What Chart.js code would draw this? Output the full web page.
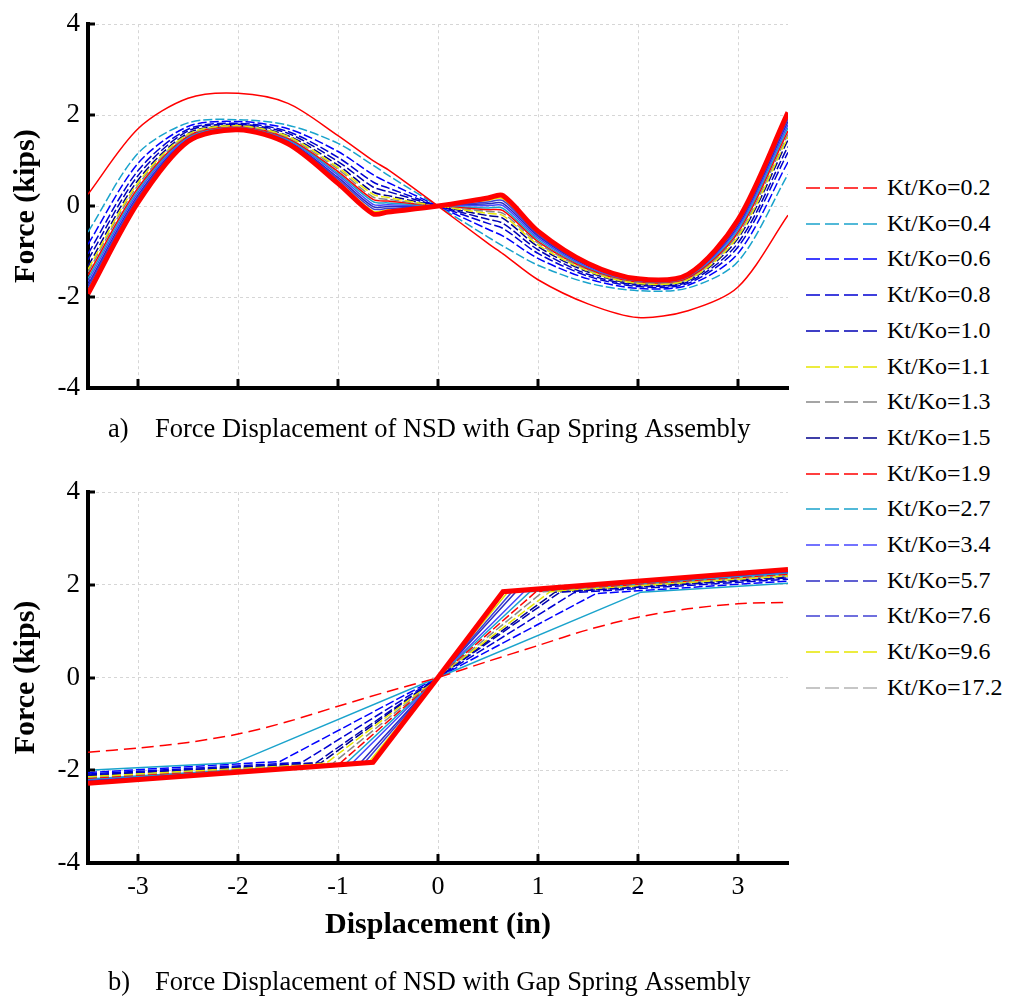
<!DOCTYPE html>
<html><head><meta charset="utf-8">
<script src="https://cdn.jsdelivr.net/npm/chart.js@4"></script>
<style>
html,body{margin:0;padding:0;background:#fff;}
#wrap{position:relative;width:1011px;height:998px;overflow:hidden;background:#fff;}
#c1{position:absolute;left:0;top:0;}
#c2{position:absolute;left:0;top:440px;}
.lt{position:absolute;left:887px;font:24px 'Liberation Serif','Times New Roman',serif;color:#000;white-space:nowrap;line-height:28px;}
.ls{position:absolute;left:806px;}
</style></head>
<body>
<div id="wrap">
<canvas id="c1" width="800" height="445"></canvas>
<canvas id="c2" width="800" height="558"></canvas>
<div id="legend"></div>
</div>
<script>
// ---------- legend / series definitions ----------
const seriesLabels = ['Kt/Ko=0.2','Kt/Ko=0.4','Kt/Ko=0.6','Kt/Ko=0.8','Kt/Ko=1.0','Kt/Ko=1.1','Kt/Ko=1.3','Kt/Ko=1.5','Kt/Ko=1.9','Kt/Ko=2.7','Kt/Ko=3.4','Kt/Ko=5.7','Kt/Ko=7.6','Kt/Ko=9.6','Kt/Ko=17.2'];
const seriesColors = ['#ff0000','#1aa3cc','#0000ff','#0000d2','#0000b4','#e6e600','#888888','#00008c','#ff0000','#1aa3cc','#4646ff','#2c2cc4','#4040d4','#e6e600','#b4b4b4'];
const xTicks = [-3,-2,-1,0,1,2,3];
const yTicks = [-4,-2,0,2,4];
const captionTopLabel = 'a)';
const captionBottomLabel = 'b)';
const captionText = 'Force Displacement of NSD with Gap Spring Assembly';

// ---------- panel a) NSD with gap spring assembly ----------
const xTop = [-3.5,-3,-2.5,-2,-1.5,-1,-0.65,-0.5,0,0.5,0.65,1,1.5,2,2.5,3,3.5];
const topKt02  = [0.26,1.70,2.37,2.48,2.26,1.55,1.00,0.80,0,-0.82,-1.05,-1.62,-2.15,-2.45,-2.30,-1.78,-0.20];
const topKt04  = [-0.57,1.16,1.83,1.90,1.78,1.38,0.90,0.68,0,-0.68,-0.88,-1.30,-1.69,-1.86,-1.80,-1.22,0.70];
const topKt06  = [-0.84,0.94,1.75,1.86,1.70,1.20,0.69,0.52,0,-0.51,-0.66,-1.15,-1.60,-1.81,-1.74,-1.04,0.97];
const topKt08  = [-1.05,0.78,1.69,1.82,1.64,1.07,0.53,0.40,0,-0.38,-0.49,-1.04,-1.54,-1.77,-1.70,-0.90,1.18];
const topKt10  = [-1.18,0.67,1.65,1.80,1.60,0.98,0.42,0.32,0,-0.29,-0.38,-0.96,-1.50,-1.74,-1.67,-0.81,1.31];
const topKt11  = [-1.39,0.51,1.58,1.77,1.53,0.85,0.26,0.19,0,-0.16,-0.21,-0.85,-1.43,-1.70,-1.62,-0.67,1.52];
const topKt13  = [-1.45,0.46,1.56,1.76,1.51,0.81,0.20,0.15,0,-0.12,-0.16,-0.81,-1.41,-1.69,-1.61,-0.62,1.58];
const topKt15  = [-1.32,0.57,1.60,1.78,1.55,0.90,0.31,0.23,0,-0.21,-0.27,-0.89,-1.45,-1.72,-1.64,-0.71,1.45];
const topKt19  = [-1.52,0.40,1.54,1.75,1.49,0.76,0.15,0.11,0,-0.08,-0.10,-0.78,-1.39,-1.68,-1.59,-0.58,1.65];
const topKt27  = [-1.59,0.35,1.52,1.74,1.47,0.72,0.10,0.07,0,-0.04,-0.05,-0.74,-1.37,-1.67,-1.58,-0.53,1.72];
const topKt34  = [-1.66,0.30,1.50,1.72,1.45,0.68,0.04,0.03,0,0.01,0.01,-0.70,-1.35,-1.65,-1.56,-0.48,1.79];
const topKt57  = [-1.73,0.24,1.48,1.71,1.43,0.63,-0.01,-0.01,0,0.05,0.06,-0.66,-1.32,-1.64,-1.55,-0.44,1.86];
const topKt76  = [-1.79,0.19,1.46,1.70,1.41,0.59,-0.06,-0.05,0,0.09,0.12,-0.63,-1.30,-1.63,-1.53,-0.39,1.92];
const topKt96  = [-1.85,0.14,1.44,1.69,1.39,0.55,-0.11,-0.08,0,0.13,0.16,-0.60,-1.29,-1.62,-1.52,-0.36,1.98];
const topKt172 = [-1.89,0.11,1.43,1.69,1.38,0.53,-0.14,-0.11,0,0.15,0.20,-0.57,-1.27,-1.61,-1.51,-0.33,2.02];
const topTarget = [-1.93,0.08,1.42,1.68,1.37,0.50,-0.17,-0.13,0,0.18,0.23,-0.55,-1.26,-1.60,-1.50,-0.30,2.06];
const topSeries = [topKt02,topKt04,topKt06,topKt08,topKt10,topKt11,topKt13,topKt15,topKt19,topKt27,topKt34,topKt57,topKt76,topKt96,topKt172];

// ---------- panel b) ----------
const bottomX02 = [-3.5,-3,-2.5,-2,-1.5,-1,-0.5,0,0.5,1,1.5,2,2.5,3,3.5];
const bottomY02 = [-1.61,-1.52,-1.40,-1.22,-0.95,-0.62,-0.30,0,0.35,0.69,1.03,1.30,1.48,1.59,1.62];
// series Kt/Ko = 0.4 ... 17.2 : linear branch to a kink, then hardening branch
const bottomKinkX = [2.03,1.58,1.36,1.22,1.12,1.05,1.17,0.98,0.92,0.86,0.78,0.74,0.70,0.67];
const bottomKinkF = [1.84,1.81,1.83,1.84,1.85,1.85,1.84,1.85,1.85,1.85,1.85,1.85,1.85,1.85];
const bottomEndL  = [-2.00,-2.05,-2.08,-2.10,-2.14,-2.15,-2.12,-2.17,-2.19,-2.20,-2.22,-2.24,-2.25,-2.26];
const bottomEndR  = [2.03,2.08,2.12,2.15,2.19,2.20,2.17,2.22,2.24,2.25,2.27,2.28,2.30,2.31];
const bottomTargetX = [-3.5,-0.65,0,0.65,3.5];
const bottomTargetY = [-2.28,-1.83,0,1.85,2.33];

const topDash    = [[],[9,3],[9,3],[9,3],[9,3],[9,3],[9,3],[9,3],[],[],[],[],[],[],[]];
const bottomDash = [[12,6],[],[9,3],[9,3],[9,3],[9,3],[9,3],[9,3],[9,3],[],[],[],[],[],[]];

const SERIF = "'Liberation Serif','Times New Roman',serif";
Chart.defaults.font.family = SERIF;
Chart.defaults.color = '#000';

function topDatasets(){
  const ds = [{label:'target', inLegend:false, data: xTop.map((x,i)=>({x, y: topTarget[i]})),
    borderColor:'#ff0000', borderWidth:5, tension:0.3, pointRadius:0}];
  topSeries.forEach((arr,k)=>ds.push({label: seriesLabels[k], data: xTop.map((x,i)=>({x, y: arr[i]})),
    borderColor: seriesColors[k], borderWidth:1.5, borderDash: topDash[k], tension:0.3, pointRadius:0}));
  return ds;
}
function bottomDatasets(){
  const ds = [{label:'target', inLegend:false, data: bottomTargetX.map((x,i)=>({x, y: bottomTargetY[i]})),
    borderColor:'#ff0000', borderWidth:5, tension:0, pointRadius:0}];
  ds.push({label: seriesLabels[0], data: bottomX02.map((x,i)=>({x, y: bottomY02[i]})),
    borderColor: seriesColors[0], borderWidth:1.5, borderDash: bottomDash[0], tension:0.3, pointRadius:0});
  bottomKinkX.forEach((kx,j)=>{
    const k = j+1;
    ds.push({label: seriesLabels[k], data:[
      {x:-3.5, y: bottomEndL[j]}, {x:-kx, y:-bottomKinkF[j]}, {x:0, y:0}, {x:kx, y: bottomKinkF[j]}, {x:3.5, y: bottomEndR[j]}],
      borderColor: seriesColors[k], borderWidth:1.5, borderDash: bottomDash[k], tension:0, pointRadius:0});
  });
  return ds;
}

const inwardTicks = {
  id:'inwardTicks',
  afterDraw(chart){
    const {ctx, chartArea:a, scales:{x,y}} = chart;
    ctx.save(); ctx.strokeStyle='#000'; ctx.lineWidth=3; ctx.setLineDash([]);
    x.ticks.forEach(t=>{const p=Math.round(x.getPixelForValue(t.value)); ctx.beginPath(); ctx.moveTo(p,a.bottom); ctx.lineTo(p,a.bottom-9); ctx.stroke();});
    y.ticks.forEach(t=>{const p=Math.round(y.getPixelForValue(t.value)); ctx.beginPath(); ctx.moveTo(a.left,p); ctx.lineTo(a.left+7,p); ctx.stroke();});
    ctx.restore();
  }
};

const caption = {
  id:'caption',
  afterDraw(chart, args, opts){
    const {ctx, chartArea:a} = chart;
    ctx.save(); ctx.font = opts.size + 'px ' + SERIF; ctx.fillStyle = '#000';
    ctx.textBaseline = 'middle'; ctx.textAlign = 'left';
    ctx.fillText(opts.label, a.left + opts.labelDx, a.bottom + opts.dy);
    ctx.fillText(opts.text, a.left + opts.textDx, a.bottom + opts.dy);
    ctx.restore();
  }
};

function scales(isTop){
  return {
    x:{type:'linear', min:-3.5, max:3.5,
      afterBuildTicks(s){ s.ticks = xTicks.map(v=>({value:v})); },
      ticks:{display:!isTop, font:{size:26, family:SERIF}, color:'#000', padding:9},
      grid:{color:'#d6d6d6', lineWidth:1, drawTicks:false},
      border:{display:true, color:'#000', width:4, dash:[3,3]},
      title: isTop ? {display:false}
        : {display:true, text:'Displacement (in)', font:{size:30, weight:'bold', family:SERIF}, color:'#000', padding:{top:0,bottom:19}},
      afterFit(s){ s.height = isTop ? 57 : 99; }
    },
    y:{type:'linear', min:-4, max:4,
      afterBuildTicks(s){ s.ticks = yTicks.map(v=>({value:v})); },
      ticks:{font:{size:27, family:SERIF}, color:'#000', padding:8},
      grid:{color:'#d6d6d6', lineWidth:1, drawTicks:false},
      border:{display:true, color:'#000', width:4, dash:[3,3]},
      title:{display:true, text:'Force (kips)', font:{size:30, weight:'bold', family:SERIF}, color:'#000', padding:{top:8,bottom:0}},
      afterFit(s){ s.width = 88; }
    }
  };
}

const chart1 = new Chart(document.getElementById('c1'), {
  type:'line',
  data:{datasets: topDatasets()},
  options:{responsive:false, animation:false,
    layout:{padding:{top:20, right:12, left:0, bottom:0}},
    plugins:{legend:{display:false}, tooltip:{enabled:false},
      caption:{label:captionTopLabel, text:captionText, size:26.5, labelDx:20, textDx:67, dy:42}},
    scales: scales(true)
  },
  plugins:[inwardTicks, caption]
});

const chart2 = new Chart(document.getElementById('c2'), {
  type:'line',
  data:{datasets: bottomDatasets()},
  options:{responsive:false, animation:false,
    layout:{padding:{top:52, right:12, left:0, bottom:36}},
    plugins:{legend:{display:false}, tooltip:{enabled:false},
      caption:{label:captionBottomLabel, text:captionText, size:26.5, labelDx:20, textDx:67, dy:120}},
    scales: scales(false)
  },
  plugins:[inwardTicks, caption]
});

// ---------- HTML legend built from the chart's datasets ----------
(function(){
  const el = document.getElementById('legend');
  chart1.data.datasets.filter(d=>d.inLegend!==false).forEach((d,i)=>{
    const yc = 188 + i*35.7;
    const svgNS='http://www.w3.org/2000/svg';
    const svg=document.createElementNS(svgNS,'svg');
    svg.setAttribute('class','ls'); svg.setAttribute('width','74'); svg.setAttribute('height','6');
    svg.style.top=(yc-3)+'px';
    const ln=document.createElementNS(svgNS,'line');
    ln.setAttribute('x1','0'); ln.setAttribute('y1','3'); ln.setAttribute('x2','74'); ln.setAttribute('y2','3');
    ln.setAttribute('stroke', d.borderColor); ln.setAttribute('stroke-width','1.5'); ln.setAttribute('stroke-dasharray','14 5');
    svg.appendChild(ln); el.appendChild(svg);
    const t=document.createElement('div'); t.className='lt'; t.textContent=d.label; t.style.top=(yc-15)+'px';
    el.appendChild(t);
  });
})();
</script>
</body></html>
